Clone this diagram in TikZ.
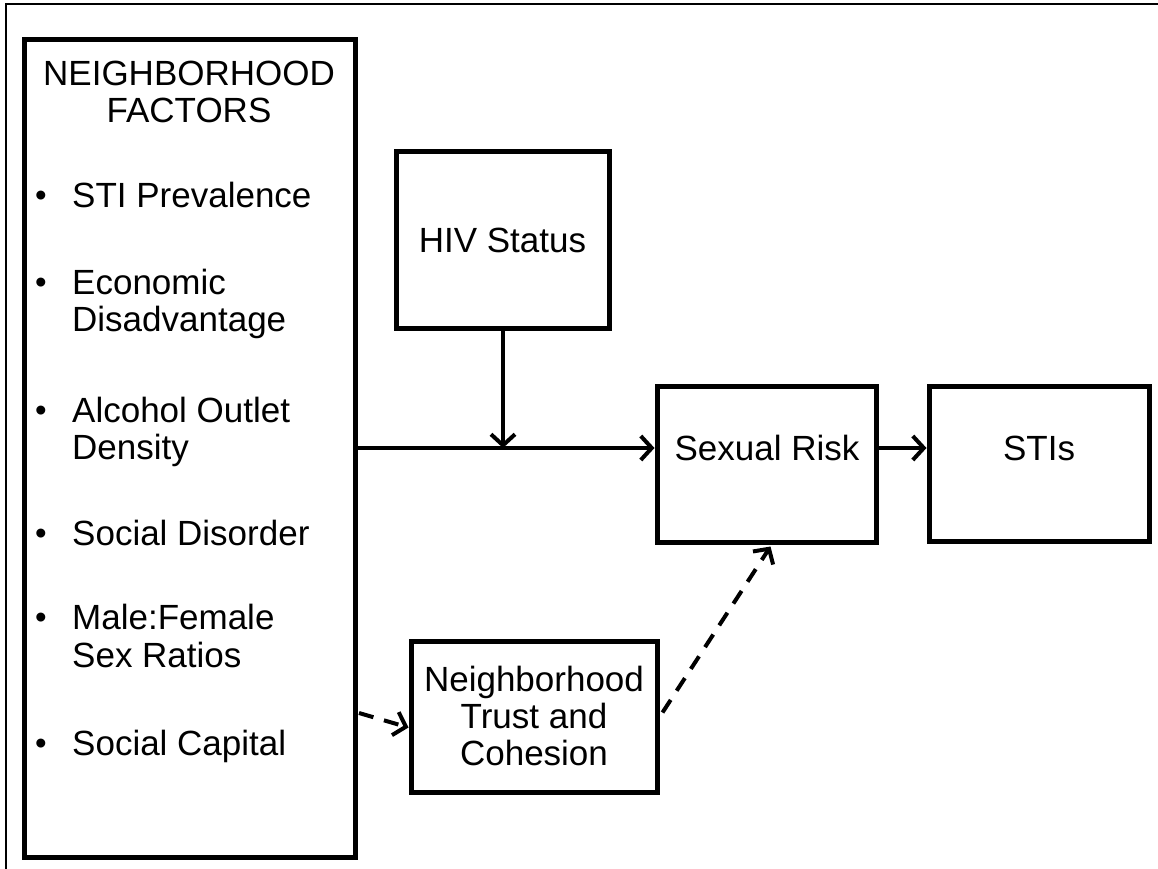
\documentclass[tikz,border=0pt]{standalone}
\usepackage{fontspec}
\setmainfont{Liberation Sans}
\usetikzlibrary{arrows.meta,shadows,calc}
\begin{document}
\begin{tikzpicture}[x=1pt,y=-1pt,
  box/.style={draw, line width=5pt, fill=white, inner sep=0pt,
    drop shadow={shadow xshift=2pt, shadow yshift=-2pt, opacity=0.25}},
  txt/.style={font=\fontsize{35}{37}\selectfont, inner sep=0pt, align=center},
  itm/.style={font=\fontsize{35}{37}\selectfont, inner sep=0pt, anchor=base west},
  bul/.style={font=\fontsize{33}{33}\selectfont, inner sep=0pt, anchor=base},
  arr/.style={line width=4pt, -{Straight Barb[length=11pt,width=24pt,line width=4pt]}},
  dsh/.style={arr, dash pattern=on 15pt off 11pt}]
\useasboundingbox (0,0) rectangle (1158,869);
\draw[line width=2.6pt] (6,869) -- (6,4) -- (1158,4);
% boxes
\node[box, minimum width=331pt, minimum height=817pt] (NF) at (189.5,448.5) {};
\node[box, minimum width=213pt, minimum height=176pt] (HIV) at (502.5,240) {};
\node[box, minimum width=219pt, minimum height=156pt] (SR) at (766.5,464) {};
\node[box, minimum width=220pt, minimum height=155pt] (STI) at (1039,463.5) {};
\node[box, minimum width=246pt, minimum height=151pt] (NTC) at (534,716.5) {};
% texts
\node[txt] (title) at (189,92) {NEIGHBORHOOD\\FACTORS};
\node[txt] (hivt) at (502.5,240) {HIV Status};
\node[txt] (srt) at (767,448) {Sexual Risk};
\node[txt] (stit) at (1039,448) {STIs};
\node[txt] (ntct) at (534,716) {Neighborhood\\Trust and\\Cohesion};
% bullet items
\foreach \n/\y in {b1/206,b2/293,b3/421,b4/544,b5/628,b6/754}
  \node[bul] (\n) at (41,\y) {•};
\node[itm] (i1) at (72,207) {STI Prevalence};
\node[itm] (i2a) at (72,294) {Economic};
\node[itm] (i2b) at (72,331) {Disadvantage};
\node[itm] (i3a) at (72,422) {Alcohol Outlet};
\node[itm] (i3b) at (72,459) {Density};
\node[itm] (i4) at (72,545) {Social Disorder};
\node[itm] (i5a) at (72,629) {Male:Female};
\node[itm] (i5b) at (72,667) {Sex Ratios};
\node[itm] (i6) at (72,755) {Social Capital};
% connectors
\coordinate (mid) at (503,448);
\coordinate (d0) at (359,713);
\draw[arr] (NF.east |- mid) -- (SR.west |- mid);
\draw[arr] (HIV.south -| mid) -- (mid);
\draw[arr] (SR.east |- mid) -- (STI.west |- mid);
\draw[dsh] (d0) -- ($(NTC.west)+(0,11)$);
\draw[dsh] ($(NTC.east)+(3,-4)$) -- ($(SR.south)+(4,2)$);
\end{tikzpicture}
\end{document}
